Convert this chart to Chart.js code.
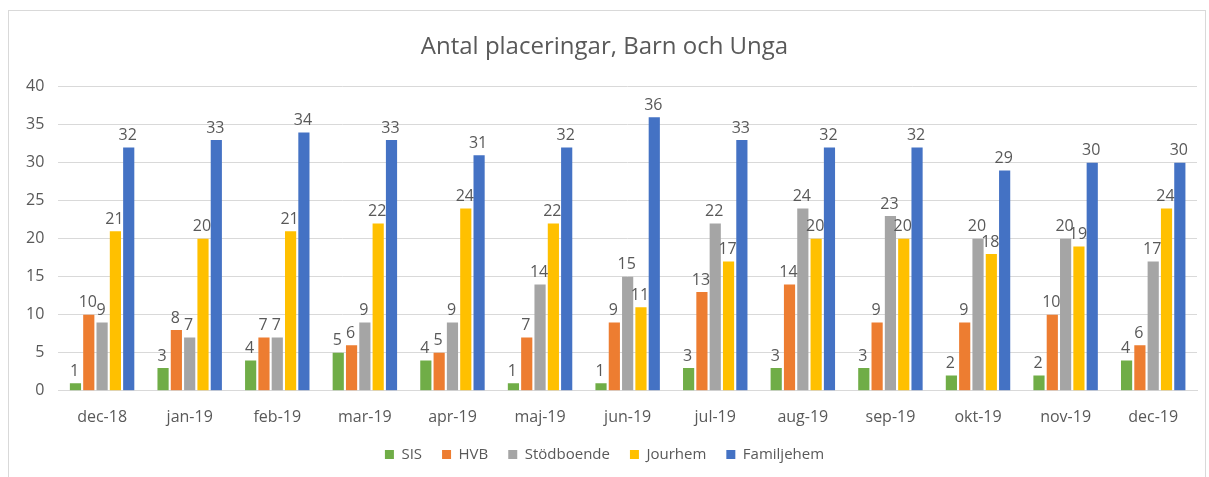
<!DOCTYPE html>
<html>
<head>
<meta charset="utf-8">
<script src="https://cdn.jsdelivr.net/npm/chart.js@4.4.1/dist/chart.umd.min.js"></script>
<style>
  html, body { margin: 0; padding: 0; background: #fff; overflow: hidden; }
  #wrap { position: absolute; left: 8px; top: 10px; width: 1198px; height: 475px; border: 1px solid #d9d9d9; box-sizing: border-box; }
</style>
</head>
<body>
<div id="wrap"><canvas id="placeringar"></canvas></div>
<script>
const months = ["dec-18", "jan-19", "feb-19", "mar-19", "apr-19", "maj-19", "jun-19", "jul-19", "aug-19", "sep-19", "okt-19", "nov-19", "dec-19"];
const sis = [1, 3, 4, 5, 4, 1, 1, 3, 3, 3, 2, 2, 4];
const hvb = [10, 8, 7, 6, 5, 7, 9, 13, 14, 9, 9, 10, 6];
const stodboende = [9, 7, 7, 9, 9, 14, 15, 22, 24, 23, 20, 20, 17];
const jourhem = [21, 20, 21, 22, 24, 22, 11, 17, 20, 20, 18, 19, 24];
const familjehem = [32, 33, 34, 33, 31, 32, 36, 33, 32, 32, 29, 30, 30];
const yTicks = [0, 5, 10, 15, 20, 25, 30, 35, 40];

const textColor = "#595959";
const fontFamily = "'Open Sans', 'Liberation Sans', sans-serif";

// simple value labels above each bar
const valueLabels = {
  id: "valueLabels",
  afterDatasetsDraw(chart) {
    const ctx = chart.ctx;
    ctx.save();
    ctx.font = "16px " + fontFamily;
    ctx.fillStyle = textColor;
    ctx.textAlign = "center";
    ctx.textBaseline = "bottom";
    chart.data.datasets.forEach((ds, i) => {
      chart.getDatasetMeta(i).data.forEach((bar, j) => {
        ctx.fillText(ds.data[j], bar.x - 1, bar.y - 4);
      });
    });
    ctx.restore();
  }
};

const ctx = document.getElementById("placeringar").getContext("2d");
const chart = new Chart(ctx, {
  type: "bar",
  data: {
    labels: months,
    datasets: [
      { label: "SIS", data: sis, backgroundColor: "#70ad47" },
      { label: "HVB", data: hvb, backgroundColor: "#ed7d31" },
      { label: "Stödboende", data: stodboende, backgroundColor: "#a5a5a5" },
      { label: "Jourhem", data: jourhem, backgroundColor: "#ffc000" },
      { label: "Familjehem", data: familjehem, backgroundColor: "#4472c4" }
    ]
  },
  options: {
    responsive: true,
    maintainAspectRatio: false,
    animation: false,
    datasets: { bar: { categoryPercentage: 0.76, barPercentage: 0.84 } },
    layout: { padding: { left: 3, right: 8, top: 10, bottom: 12 } },
    plugins: {
      title: {
        display: true,
        text: "Antal placeringar, Barn och Unga",
        color: textColor,
        font: { family: fontFamily, size: 24, weight: "normal" },
        padding: { top: 12, bottom: 25 }
      },
      legend: {
        position: "bottom",
        labels: {
          color: textColor,
          font: { family: fontFamily, size: 15 },
          boxWidth: 9,
          boxHeight: 9,
          padding: 20
        }
      },
      tooltip: { enabled: false }
    },
    scales: {
      x: {
        grid: { display: false, drawTicks: false },
        border: { color: "#d9d9d9" },
        ticks: { color: textColor, font: { family: fontFamily, size: 16 }, padding: 17 },
        // pull the legend a little closer to the month labels
        afterFit(axis) { axis.height -= 17; }
      },
      y: {
        min: 0,
        max: 40,
        afterBuildTicks(axis) { axis.ticks = yTicks.map(v => ({ value: v })); },
        grid: { color: "#d9d9d9", drawTicks: false },
        border: { display: false },
        ticks: { color: textColor, font: { family: fontFamily, size: 16 }, padding: 14 }
      }
    }
  },
  plugins: [valueLabels]
});
</script>
</body>
</html>
